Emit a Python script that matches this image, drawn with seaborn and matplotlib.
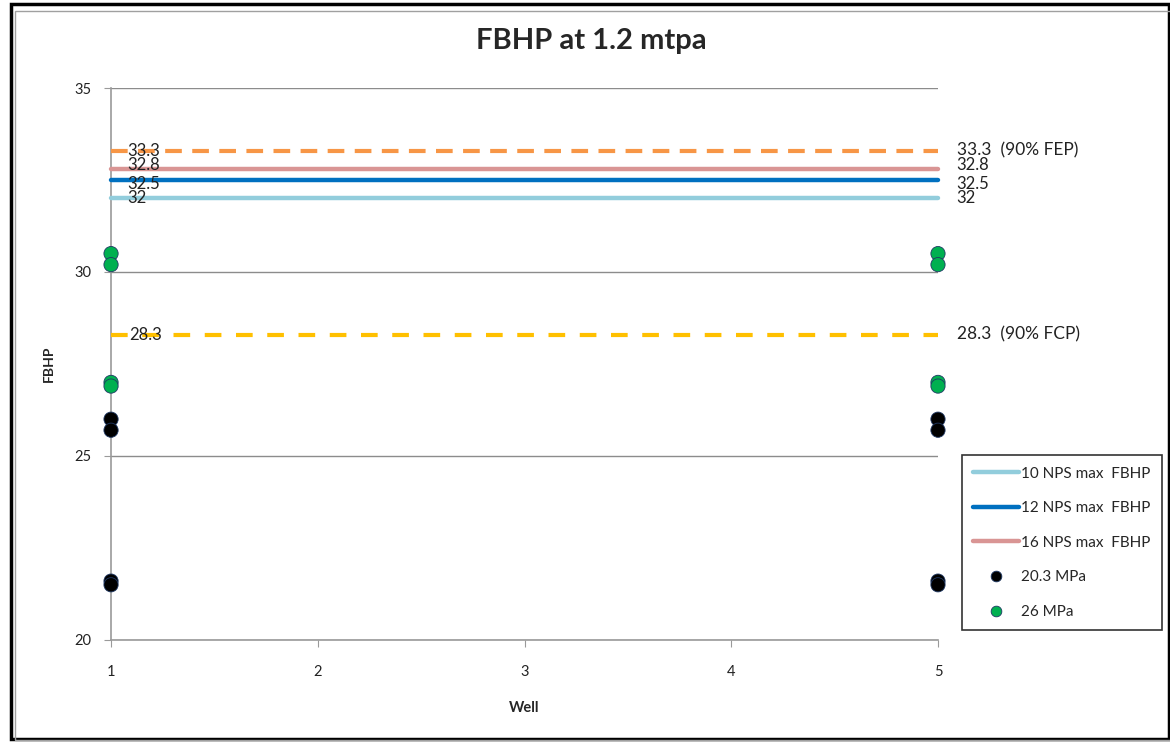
import matplotlib
matplotlib.use("Agg")
import matplotlib.pyplot as plt
from matplotlib.patches import Rectangle
import seaborn as sns
import pandas as pd

# data
wells = [1, 5]
black_vals = [26.0, 25.7, 21.6, 21.5]   # 20.3 MPa
green_vals = [30.5, 30.2, 27.0, 26.9]   # 26 MPa

nps_labels = ["10 NPS max  FBHP", "12 NPS max  FBHP", "16 NPS max  FBHP"]
nps_values = [32.0, 32.5, 32.8]
nps_colors = ["#92CDDC", "#0070C0", "#D99594"]
nps_nudge = [0, -3, 3]   # label offsets (points) so 32.5 / 32.8 stay legible

fep_value = 33.3
fcp_value = 28.3

sns.set_style("white")
plt.rcParams["font.family"] = ["Lato", "DejaVu Sans"]

fig = plt.figure(figsize=(11.7, 7.42), dpi=100)
ax = fig.add_axes([0.0949, 0.1375, 0.7068, 0.7439])

# horizontal reference lines
for lab, v, c in zip(nps_labels, nps_values, nps_colors):
    df = pd.DataFrame({"Well": wells, "FBHP": [v, v]})
    sns.lineplot(data=df, x="Well", y="FBHP", color=c, lw=3.2, ax=ax,
                 label=lab, clip_on=False, zorder=3)

df_fep = pd.DataFrame({"Well": wells, "FBHP": [fep_value, fep_value]})
sns.lineplot(data=df_fep, x="Well", y="FBHP", color="#F79646", lw=3,
             ax=ax, clip_on=False, zorder=3, label="_nolegend_")
ax.lines[-1].set_dashes([4, 2.5])
df_fcp = pd.DataFrame({"Well": wells, "FBHP": [fcp_value, fcp_value]})
sns.lineplot(data=df_fcp, x="Well", y="FBHP", color="#FFC000", lw=3,
             ax=ax, clip_on=False, zorder=3, label="_nolegend_")
ax.lines[-1].set_dashes([4, 3.5])

# scatter points
pts = []
for w in wells:
    for v in black_vals:
        pts.append((w, v, "20.3 MPa"))
    for v in green_vals:
        pts.append((w, v, "26 MPa"))
df_pts = pd.DataFrame(pts, columns=["Well", "FBHP", "Case"])
sns.scatterplot(data=df_pts, x="Well", y="FBHP", hue="Case",
                palette={"20.3 MPa": "black", "26 MPa": "#00B050"},
                s=105, edgecolor="#1F3864", linewidth=0.6, ax=ax,
                clip_on=False, zorder=5)
for coll in ax.collections:
    coll.set_clip_on(False)

# value labels
txt_kw = dict(ha="left", va="center", color="#222222",
              textcoords="offset points", annotation_clip=False)
ax.annotate(f"{fep_value:g}", (1.08, fep_value), xytext=(0, 0), fontsize=12, zorder=6, **txt_kw)
ax.annotate(f"{fcp_value:g}", (1.09, fcp_value), xytext=(0, 0), fontsize=12, zorder=6, **txt_kw)
for v, dy in zip(nps_values, nps_nudge):
    ax.annotate(f"{v:g}", (1.08, v), xytext=(0, dy), fontsize=12, zorder=6, **txt_kw)
    ax.annotate(f"{v:g}", (5.09, v), xytext=(0, dy), fontsize=12, **txt_kw)
ax.annotate(f"{fep_value:g}  (90% FEP)", (5.09, fep_value), xytext=(0, 0),
            fontsize=12.5, **txt_kw)
ax.annotate(f"{fcp_value:g}  (90% FCP)", (5.09, fcp_value), xytext=(0, 0),
            fontsize=12.5, **txt_kw)

ax.set_xlim(1, 5)
ax.set_ylim(20, 35)
ax.set_xticks([1, 2, 3, 4, 5])
ax.set_yticks([20, 25, 30, 35])
ax.yaxis.grid(True, color="#8C8C8C", lw=1)
ax.set_axisbelow(True)
for s in ["top", "right"]:
    ax.spines[s].set_visible(False)
for s in ["left", "bottom"]:
    ax.spines[s].set_color("#9A9A9A")
    ax.spines[s].set_linewidth(1.2)
ax.tick_params(axis="both", which="both", length=5, color="#9A9A9A",
               labelsize=10.5, labelcolor="#222222", left=True, bottom=True)
ax.tick_params(axis="y", pad=9)
ax.tick_params(axis="x", pad=13)
ax.set_xlabel("Well", fontsize=10.5, fontweight="bold", labelpad=16)
ax.set_ylabel("FBHP", fontsize=10, fontweight="bold", labelpad=14)
fig.suptitle("FBHP at 1.2 mtpa", fontsize=21, fontweight="bold",
             x=0.505, y=0.962)

# legend
handles, labels = ax.get_legend_handles_labels()
order = nps_labels + ["20.3 MPa", "26 MPa"]
hmap = dict(zip(labels, handles))
leg = ax.legend([hmap[l] for l in order], order, loc="upper left",
                bbox_to_anchor=(1.029, 0.335), frameon=True, fancybox=False,
                edgecolor="black", fontsize=11, handlelength=3.0,
                handletextpad=0.1, labelspacing=1.35, borderpad=0.75,
                borderaxespad=0, markerscale=0.75)
leg.get_frame().set_linewidth(1.2)

# outer frames
fig.add_artist(Rectangle((0.009, 0.004), 0.99, 0.99, transform=fig.transFigure,
                         fill=False, edgecolor="black", lw=2.5))
fig.add_artist(Rectangle((0.0125, 0.003), 0.99, 0.982, transform=fig.transFigure,
                         fill=False, edgecolor="#A0A0A0", lw=1))

fig.savefig("out.png", dpi=100)
